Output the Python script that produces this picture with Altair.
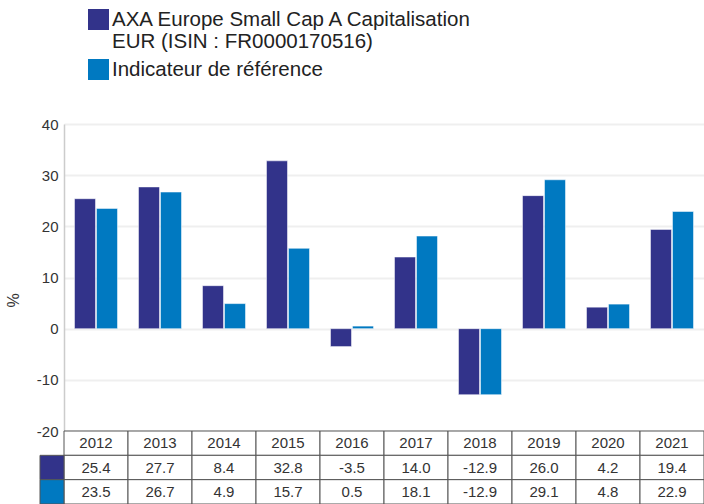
import altair as alt
import pandas as pd

years = ["2012", "2013", "2014", "2015", "2016", "2017", "2018", "2019", "2020", "2021"]
fund_values = [25.4, 27.7, 8.4, 32.8, -3.5, 14.0, -12.9, 26.0, 4.2, 19.4]
bench_values = [23.5, 26.7, 4.9, 15.7, 0.5, 18.1, -12.9, 29.1, 4.8, 22.9]
series_names = ["AXA Europe Small Cap A Capitalisation|EUR (ISIN : FR0000170516)",
                "Indicateur de référence"]
colors = ["#32338a", "#0079c1"]
y_ticks = [-20, -10, 0, 10, 20, 30, 40]

FONT = "Liberation Sans"

# bar data
bar_rows = []
for i, y in enumerate(years):
    bar_rows.append({"year": y, "series": series_names[0], "value": fund_values[i]})
    bar_rows.append({"year": y, "series": series_names[1], "value": bench_values[i]})
bars_df = pd.DataFrame(bar_rows)

# table data
row_keys = ["year", "fund", "bench"]
table_rows = []
for i, y in enumerate(years):
    table_rows.append({"row": "year", "col": i, "text": y})
    table_rows.append({"row": "fund", "col": i, "text": f"{fund_values[i]:.1f}"})
    table_rows.append({"row": "bench", "col": i, "text": f"{bench_values[i]:.1f}"})
table_df = pd.DataFrame(table_rows)
swatch_df = pd.DataFrame({"row": ["fund", "bench"], "col": [-1, -1], "series": series_names})

H_PLOT = 307
H_TOTAL = 380
W = 640

x_tab = alt.Scale(domain=[-1, 0, 10], range=[-24, 0, W])
y_tab = alt.Scale(domain=row_keys, range=[H_PLOT, H_TOTAL], paddingInner=0, paddingOuter=0)
color_scale = alt.Scale(domain=series_names, range=colors)

bars = alt.Chart(bars_df).mark_bar(stroke="#ffffff", strokeWidth=1, strokeOpacity=0.5).encode(
    x=alt.X("year:N", scale=alt.Scale(domain=years, paddingInner=0, paddingOuter=0), axis=None),
    xOffset=alt.XOffset("series:N", scale=alt.Scale(domain=series_names, paddingInner=0.045, paddingOuter=0.477)),
    y=alt.Y("value:Q", scale=alt.Scale(domain=[-20, 40], range=[H_PLOT, 0], nice=False),
            axis=alt.Axis(values=y_ticks, title="%", grid=True, gridColor="#efefef", gridWidth=2,
                          domainColor="#cccccc", domainWidth=1.5, ticks=False, labelPadding=6,
                          labelExpr="toString(datum.value)",
                          labelFont=FONT, labelFontSize=15, labelColor="#333333",
                          titleFont=FONT, titleFontSize=16, titleFontWeight="normal", titleColor="#333333",
                          titleX=-51, titleY=176, titleAngle=-90, titleAlign="center", titleBaseline="middle")),
    color=alt.Color("series:N", scale=color_scale,
                    legend=alt.Legend(orient="none", legendX=24, legendY=-115, title=None,
                                      symbolType="square", symbolSize=441, symbolStrokeWidth=0,
                                      symbolOpacity=1, labelFont=FONT, labelFontSize=20.5,
                                      labelColor="#222222", labelExpr="split(datum.label, '|')",
                                      labelOffset=3, rowPadding=6, labelLimit=500)),
)

cells = alt.Chart(table_df).mark_rect(fill="#ffffff", stroke="#555555", strokeWidth=1).transform_calculate(
    col_end="datum.col + 1"
).encode(
    x=alt.X("col:Q", scale=x_tab, axis=None),
    x2="col_end:Q",
    y=alt.Y("row:N", scale=y_tab, axis=None),
)

swatches = alt.Chart(swatch_df).mark_rect(stroke="#555555", strokeWidth=1).transform_calculate(
    col_end="datum.col + 1"
).encode(
    x=alt.X("col:Q", scale=x_tab, axis=None),
    x2="col_end:Q",
    y=alt.Y("row:N", scale=y_tab, axis=None),
    color=alt.Color("series:N", scale=color_scale),
)

texts = alt.Chart(table_df).mark_text(font=FONT, fontSize=15, color="#333333", baseline="middle").transform_calculate(
    mid="datum.col + 0.5"
).encode(
    x=alt.X("mid:Q", scale=x_tab, axis=None),
    y=alt.Y("row:N", scale=y_tab, axis=None),
    text="text:N",
)

chart = alt.layer(bars, cells, swatches, texts).resolve_scale(
    x="independent", y="independent"
).properties(
    width=W, height=H_TOTAL,
    autosize=alt.AutoSizeParams(type="none"),
    padding={"left": 64, "top": 124, "right": 0, "bottom": 0},
).configure_view(stroke=None)

chart.save("out.html", embed_options={"renderer": "svg", "actions": False})
